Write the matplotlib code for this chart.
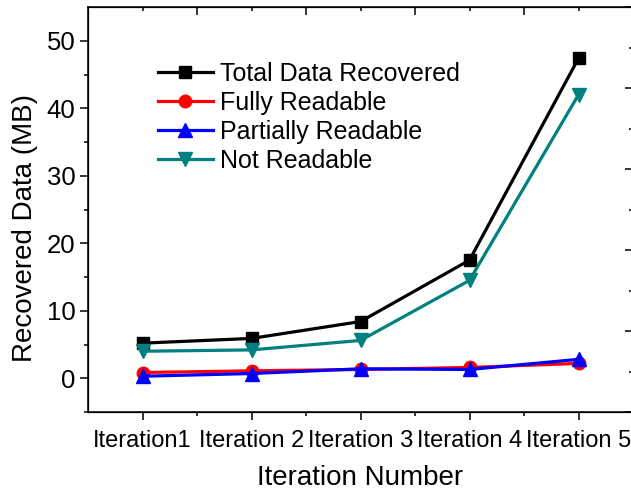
import matplotlib
matplotlib.use("Agg")
import matplotlib.pyplot as plt
from matplotlib.ticker import MultipleLocator, FixedLocator

categories = ["Iteration1", "Iteration 2", "Iteration 3", "Iteration 4", "Iteration 5"]
total = [5.2, 5.9, 8.4, 17.5, 47.4]
fully = [0.85, 1.1, 1.3, 1.6, 2.2]
partially = [0.3, 0.7, 1.4, 1.3, 2.8]
not_readable = [4.0, 4.2, 5.6, 14.5, 42.0]

plt.rcParams['font.family'] = ['Liberation Sans', 'DejaVu Sans']

fig = plt.figure(figsize=(6.31, 4.91), dpi=100)
ax = fig.add_axes([88/631, 79/491, 545/631, 405/491])

x = list(range(1, len(categories) + 1))
lw = 2.3
ax.plot(x, total, color='black', lw=lw, marker='s', ms=8, label='Total Data Recovered')
ax.plot(x, fully, color='#FF0000', lw=lw, marker='o', ms=9, label='Fully Readable')
ax.plot(x, partially, color='#0000FF', lw=lw, marker='^', ms=10, label='Partially Readable')
ax.plot(x, not_readable, color='#008080', lw=lw, marker='v', ms=10, label='Not Readable')

ax.set_xlim(0.5, 5.5)
ax.set_ylim(-5, 55)
ax.set_xticks(x)
ax.set_xticklabels(categories)
ax.xaxis.set_minor_locator(FixedLocator([1.5, 2.5, 3.5, 4.5]))
ax.yaxis.set_major_locator(FixedLocator([0, 10, 20, 30, 40, 50]))
ax.yaxis.set_minor_locator(FixedLocator([-5, 5, 15, 25, 35, 45]))

ax.tick_params(axis='both', which='major', direction='out', length=6, width=1.1)
ax.tick_params(axis='both', which='minor', direction='out', length=3, width=1.1)
ax.tick_params(axis='x', which='major', pad=7, labelsize=17)
ax.tick_params(axis='y', which='major', pad=3, labelsize=18.5)
ax.tick_params(top=False, right=False)

for s in ax.spines.values():
    s.set_linewidth(1.1)

# top axis ticks (inward)
axt = ax.twiny()
axt.set_xlim(0.5, 5.5)
axt.xaxis.set_major_locator(FixedLocator([1.5, 2.5, 3.5, 4.5]))
axt.xaxis.set_minor_locator(FixedLocator([1, 2, 3, 4, 5]))
axt.tick_params(axis='x', which='major', direction='in', length=6, width=1.1, labeltop=False)
axt.tick_params(axis='x', which='minor', direction='in', length=3, width=1.1)

# right axis ticks (inward)
axr = ax.twinx()
axr.set_ylim(0, 1)
axr.yaxis.set_major_locator(MultipleLocator(0.2))
axr.yaxis.set_minor_locator(MultipleLocator(0.1))
axr.tick_params(axis='y', which='major', direction='in', length=6, width=1.1, labelright=False)
axr.tick_params(axis='y', which='minor', direction='in', length=3, width=1.1)

ax.set_xlabel('Iteration Number', fontsize=20, labelpad=9)
ax.set_ylabel('Recovered Data (MB)', fontsize=20)
ax.yaxis.set_label_coords(-0.091, 0.455)

ax.legend(loc='upper left', bbox_to_anchor=(0.128, 0.865), frameon=False,
          fontsize=18, handlelength=2.2, handletextpad=0.3, labelspacing=0.2,
          borderpad=0, borderaxespad=0, markerscale=1.0)

fig.savefig('out.png', dpi=100)
